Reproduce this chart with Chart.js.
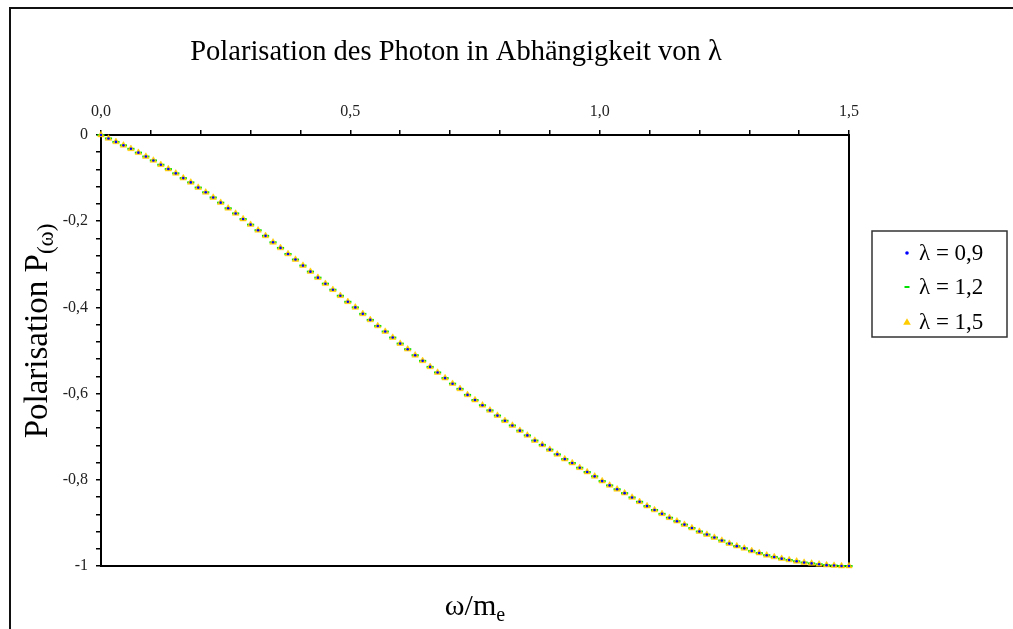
<!DOCTYPE html>
<html>

<head>
    <meta charset="utf-8">
    <title>Polarisation des Photon</title>
    <style>
        html, body { margin: 0; padding: 0; background: #fff; }
        #container { width: 1013px; height: 629px; }
    </style>
</head>

<body>
    <div id="container">
        <canvas id="canvas" width="1013" height="629"></canvas>
    </div>
    <script src="https://cdn.jsdelivr.net/npm/chart.js@4/dist/chart.umd.min.js"></script>
    <script type="text/javascript">
        var chartTitle = 'Polarisation des Photon in Abhängigkeit von λ';
        var seriesLabels = ['λ = 0,9', 'λ = 1,2', 'λ = 1,5'];

        // omega / m_e
        var omega = [
            0, 0.015, 0.03, 0.045, 0.06, 0.075, 0.09, 0.105, 0.12, 0.135,
            0.15, 0.165, 0.18, 0.195, 0.21, 0.225, 0.24, 0.255, 0.27, 0.285,
            0.3, 0.315, 0.33, 0.345, 0.36, 0.375, 0.39, 0.405, 0.42, 0.435,
            0.45, 0.465, 0.48, 0.495, 0.51, 0.525, 0.54, 0.555, 0.57, 0.585,
            0.6, 0.615, 0.63, 0.645, 0.66, 0.675, 0.69, 0.705, 0.72, 0.735,
            0.75, 0.765, 0.78, 0.795, 0.81, 0.825, 0.84, 0.855, 0.87, 0.885,
            0.9, 0.915, 0.93, 0.945, 0.96, 0.975, 0.99, 1.005, 1.02, 1.035,
            1.05, 1.065, 1.08, 1.095, 1.11, 1.125, 1.14, 1.155, 1.17, 1.185,
            1.2, 1.215, 1.23, 1.245, 1.26, 1.275, 1.29, 1.305, 1.32, 1.335,
            1.35, 1.365, 1.38, 1.395, 1.41, 1.425, 1.44, 1.455, 1.47, 1.485,
            1.5
        ];

        var pol09 = [
            0, -0.008, -0.016, -0.024, -0.032, -0.041, -0.050, -0.059, -0.069, -0.079,
            -0.089, -0.100, -0.110, -0.122, -0.133, -0.145, -0.157, -0.170, -0.182, -0.195,
            -0.208, -0.221, -0.234, -0.249, -0.262, -0.276, -0.289, -0.303, -0.317, -0.331,
            -0.345, -0.359, -0.373, -0.387, -0.400, -0.415, -0.429, -0.443, -0.456, -0.470,
            -0.484, -0.497, -0.511, -0.524, -0.538, -0.551, -0.564, -0.577, -0.589, -0.603,
            -0.615, -0.627, -0.639, -0.651, -0.663, -0.674, -0.686, -0.697, -0.709, -0.719,
            -0.730, -0.741, -0.752, -0.761, -0.772, -0.782, -0.792, -0.803, -0.813, -0.822,
            -0.831, -0.841, -0.851, -0.861, -0.870, -0.879, -0.888, -0.896, -0.904, -0.912,
            -0.920, -0.927, -0.934, -0.941, -0.948, -0.954, -0.959, -0.965, -0.970, -0.975,
            -0.979, -0.983, -0.986, -0.989, -0.992, -0.994, -0.996, -0.998, -0.999, -1.000,
            -1.000
        ];

        var pol12 = [
            0, -0.008, -0.016, -0.024, -0.032, -0.041, -0.050, -0.059, -0.069, -0.079,
            -0.089, -0.100, -0.110, -0.122, -0.133, -0.145, -0.157, -0.170, -0.182, -0.195,
            -0.208, -0.221, -0.234, -0.249, -0.262, -0.276, -0.289, -0.303, -0.317, -0.331,
            -0.345, -0.359, -0.373, -0.387, -0.400, -0.415, -0.429, -0.443, -0.456, -0.470,
            -0.484, -0.497, -0.511, -0.524, -0.538, -0.551, -0.564, -0.577, -0.589, -0.603,
            -0.615, -0.627, -0.639, -0.651, -0.663, -0.674, -0.686, -0.697, -0.709, -0.719,
            -0.730, -0.741, -0.752, -0.761, -0.772, -0.782, -0.792, -0.803, -0.813, -0.822,
            -0.831, -0.841, -0.851, -0.861, -0.870, -0.879, -0.888, -0.896, -0.904, -0.912,
            -0.920, -0.927, -0.934, -0.941, -0.948, -0.954, -0.959, -0.965, -0.970, -0.975,
            -0.979, -0.983, -0.986, -0.989, -0.992, -0.994, -0.996, -0.998, -0.999, -1.000,
            -1.000
        ];

        var pol15 = [
            0, -0.008, -0.016, -0.024, -0.032, -0.041, -0.050, -0.059, -0.069, -0.079,
            -0.089, -0.100, -0.110, -0.122, -0.133, -0.145, -0.157, -0.170, -0.182, -0.195,
            -0.208, -0.221, -0.234, -0.249, -0.262, -0.276, -0.289, -0.303, -0.317, -0.331,
            -0.345, -0.359, -0.373, -0.387, -0.400, -0.415, -0.429, -0.443, -0.456, -0.470,
            -0.484, -0.497, -0.511, -0.524, -0.538, -0.551, -0.564, -0.577, -0.589, -0.603,
            -0.615, -0.627, -0.639, -0.651, -0.663, -0.674, -0.686, -0.697, -0.709, -0.719,
            -0.730, -0.741, -0.752, -0.761, -0.772, -0.782, -0.792, -0.803, -0.813, -0.822,
            -0.831, -0.841, -0.851, -0.861, -0.870, -0.879, -0.888, -0.896, -0.904, -0.912,
            -0.920, -0.927, -0.934, -0.941, -0.948, -0.954, -0.959, -0.965, -0.970, -0.975,
            -0.979, -0.983, -0.986, -0.989, -0.992, -0.994, -0.996, -0.998, -0.999, -1.000,
            -1.000
        ];

        var serif = '"Liberation Serif", "Times New Roman", serif';

        function toPoints(ys) {
            return omega.map(function(x, i) { return { x: x, y: ys[i] }; });
        }

        function drawMarker(ctx, ds, x, y) {
            ctx.save();
            if (ds.pointStyle === 'circle') {
                ctx.fillStyle = ds.pointBackgroundColor;
                ctx.beginPath();
                ctx.arc(x, y, 1.8, 0, Math.PI * 2);
                ctx.fill();
            } else if (ds.pointStyle === 'line') {
                ctx.strokeStyle = ds.pointBorderColor;
                ctx.lineWidth = 2;
                ctx.beginPath();
                ctx.moveTo(x - 2.5, y);
                ctx.lineTo(x + 2.5, y);
                ctx.stroke();
            } else {
                var r = 3.8;
                ctx.fillStyle = ds.pointBackgroundColor;
                ctx.beginPath();
                ctx.moveTo(x, y - r);
                ctx.lineTo(x + r, y + r * 0.75);
                ctx.lineTo(x - r, y + r * 0.75);
                ctx.closePath();
                ctx.fill();
            }
            ctx.restore();
        }

        var decorations = {
            id: 'decorations',
            beforeDraw: function(chart) {
                var ctx = chart.ctx;
                ctx.save();
                ctx.fillStyle = '#fff';
                ctx.fillRect(0, 0, chart.width, chart.height);
                // outer frame, only left and top edges are in view
                ctx.strokeStyle = '#111';
                ctx.lineWidth = 2;
                ctx.beginPath();
                ctx.moveTo(10, chart.height);
                ctx.lineTo(10, 8);
                ctx.lineTo(chart.width, 8);
                ctx.stroke();
                ctx.restore();
            },
            afterDraw: function(chart) {
                var ctx = chart.ctx;
                var area = chart.chartArea;
                ctx.save();
                ctx.fillStyle = '#000';

                // title
                ctx.font = '28.5px ' + serif;
                ctx.textAlign = 'center';
                ctx.textBaseline = 'alphabetic';
                ctx.fillText(chartTitle, 456, 60);

                // x axis title: omega/m_e
                ctx.textAlign = 'left';
                ctx.font = '30px ' + serif;
                var main = 'ω/m';
                var w1 = ctx.measureText(main).width;
                ctx.font = '20px ' + serif;
                var w2 = ctx.measureText('e').width;
                var xs = (area.left + area.right) / 2 - (w1 + w2) / 2;
                ctx.font = '30px ' + serif;
                ctx.fillText(main, xs, 615);
                ctx.font = '20px ' + serif;
                ctx.fillText('e', xs + w1, 621);

                // y axis title: Polarisation P(omega)
                ctx.save();
                ctx.translate(47, 331);
                ctx.rotate(-Math.PI / 2);
                ctx.font = '33px ' + serif;
                var yMain = 'Polarisation P';
                var yw1 = ctx.measureText(yMain).width;
                ctx.font = '23px ' + serif;
                var yw2 = ctx.measureText('(ω)').width;
                var ys = -(yw1 + yw2) / 2;
                ctx.font = '33px ' + serif;
                ctx.fillText(yMain, ys, 0);
                ctx.font = '23px ' + serif;
                ctx.fillText('(ω)', ys + yw1, 6);
                ctx.restore();

                // legend
                ctx.strokeStyle = '#333';
                ctx.lineWidth = 1.5;
                ctx.strokeRect(872, 231, 135, 106);
                ctx.font = '23px ' + serif;
                ctx.textBaseline = 'middle';
                var rows = [253, 287, 322];
                chart.data.datasets.forEach(function(ds, i) {
                    drawMarker(ctx, ds, 907, rows[i]);
                    ctx.fillStyle = '#000';
                    ctx.fillText(ds.label, 919, rows[i] + 1);
                });
                ctx.restore();
            }
        };

        window.onload = function() {
            var ctx = document.getElementById('canvas').getContext('2d');
            window.polChart = new Chart(ctx, {
                type: 'scatter',
                data: {
                    datasets: [{
                        label: seriesLabels[0],
                        data: toPoints(pol09),
                        order: 0,
                        pointStyle: 'circle',
                        pointRadius: 1.3,
                        pointBackgroundColor: '#0000ff',
                        pointBorderColor: '#0000ff',
                        pointBorderWidth: 0,
                        showLine: false,
                        clip: false
                    }, {
                        label: seriesLabels[1],
                        data: toPoints(pol12),
                        order: 2,
                        pointStyle: 'line',
                        pointRadius: 3.6,
                        pointBackgroundColor: '#00e000',
                        pointBorderColor: '#00e000',
                        pointBorderWidth: 2,
                        showLine: false,
                        clip: false
                    }, {
                        label: seriesLabels[2],
                        data: toPoints(pol15),
                        order: 1,
                        pointStyle: 'triangle',
                        pointRadius: 3.8,
                        pointBackgroundColor: '#ffcc00',
                        pointBorderColor: '#ffcc00',
                        pointBorderWidth: 0.5,
                        showLine: false,
                        clip: false
                    }]
                },
                options: {
                    responsive: false,
                    animation: false,
                    events: [],
                    layout: {
                        padding: { top: 90, left: 0, right: 154, bottom: 53 }
                    },
                    plugins: {
                        legend: { display: false },
                        title: { display: false },
                        tooltip: { enabled: false }
                    },
                    scales: {
                        x: {
                            type: 'linear',
                            position: 'top',
                            min: 0,
                            max: 1.5,
                            afterFit: function(s) { s.height = 45; },
                            ticks: {
                                stepSize: 0.1,
                                autoSkip: false,
                                maxRotation: 0,
                                padding: 9,
                                color: '#222',
                                font: { family: serif, size: 16 },
                                callback: function(v) {
                                    var t = Math.round(v * 10);
                                    return t % 5 === 0 ? (t / 10).toFixed(1).replace('.', ',') : '';
                                }
                            },
                            grid: { drawOnChartArea: false, tickLength: 5, color: '#000', lineWidth: 1.5 },
                            border: { color: '#000', width: 2 }
                        },
                        x2: {
                            type: 'linear',
                            position: 'bottom',
                            min: 0,
                            max: 1.5,
                            afterFit: function(s) { s.height = 10; },
                            ticks: { display: false },
                            grid: { display: false },
                            border: { color: '#000', width: 2 }
                        },
                        y: {
                            type: 'linear',
                            position: 'left',
                            min: -1,
                            max: 0,
                            afterFit: function(s) { s.width = 101; },
                            ticks: {
                                stepSize: 0.04,
                                autoSkip: false,
                                padding: 8,
                                color: '#222',
                                font: { family: serif, size: 16 },
                                callback: function(v) {
                                    var t = Math.round(v * 100);
                                    if (t % 20 !== 0) return '';
                                    if (t === 0) return '0';
                                    if (t === -100) return '-1';
                                    return (t / 100).toFixed(1).replace('.', ',');
                                }
                            },
                            grid: { drawOnChartArea: false, tickLength: 5, color: '#000', lineWidth: 1.5 },
                            border: { color: '#000', width: 2 }
                        },
                        y2: {
                            type: 'linear',
                            position: 'right',
                            min: -1,
                            max: 0,
                            afterFit: function(s) { s.width = 10; },
                            ticks: { display: false },
                            grid: { display: false },
                            border: { color: '#000', width: 2 }
                        }
                    }
                },
                plugins: [decorations]
            });
        };
    </script>
</body>

</html>
